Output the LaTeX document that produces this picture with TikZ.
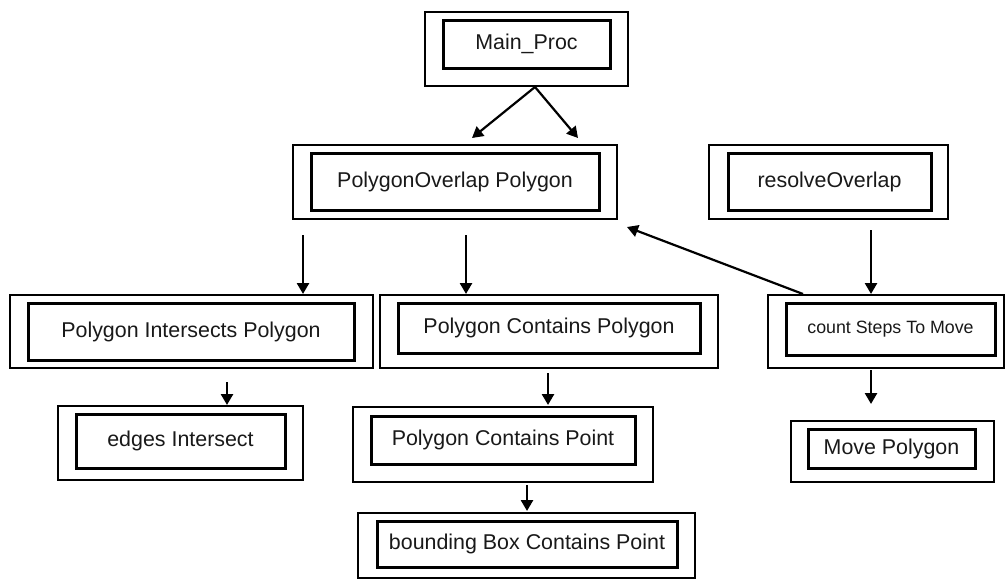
\documentclass[tikz,border=0pt]{standalone}
\usepackage{fontspec}
\setmainfont{Liberation Sans}
\usetikzlibrary{arrows.meta}
\begin{document}
\begin{tikzpicture}[x=1pt,y=-1pt,
  outerbox/.style={draw, line width=2.2pt, inner sep=0pt, rectangle},
  innerbox/.style={draw, line width=3pt, inner sep=0pt, rectangle,
    font=\fontsize{21.4}{24}\selectfont, text=black!90},
  smalltext/.style={font=\fontsize{17.8}{20}\selectfont},
  arr/.style={line width=2.6pt, -{Triangle[length=11pt,width=12pt]}},
  thinarr/.style={line width=2.2pt, -{Triangle[length=11pt,width=12pt]}}
]
\fill[white] (0,0) rectangle (1008,579);
\useasboundingbox (0,0) rectangle (1008,579);

% outer boxes
\node[outerbox, minimum width=203pt, minimum height=74pt] (main)    at (526.5,49)   {};
\node[outerbox, minimum width=324pt, minimum height=74pt] (overlap) at (455,182)    {};
\node[outerbox, minimum width=239pt, minimum height=74pt] (resolve) at (828.5,182)  {};
\node[outerbox, minimum width=363pt, minimum height=73pt] (pip)     at (191.5,331.5){};
\node[outerbox, minimum width=338pt, minimum height=73pt] (pcp)     at (549,331.5)  {};
\node[outerbox, minimum width=236pt, minimum height=73pt] (count)   at (886,331.5)  {};
\node[outerbox, minimum width=245pt, minimum height=74pt] (edges)   at (180.5,443)  {};
\node[outerbox, minimum width=300pt, minimum height=75pt] (pcpt)    at (503,444.5)  {};
\node[outerbox, minimum width=203pt, minimum height=61pt] (move)    at (892.5,451.5){};
\node[outerbox, minimum width=337pt, minimum height=65pt] (bbox)    at (526.5,545.5){};

% inner boxes with text
\node[innerbox, minimum width=167pt, minimum height=48pt] (mainI)    at (526.5,44)   {Main\_Proc};
\node[innerbox, minimum width=288pt, minimum height=57pt] (overlapI) at (455,181.5)  {PolygonOverlap Polygon};
\node[innerbox, minimum width=203pt, minimum height=57pt] (resolveI) at (829.5,181.5){resolveOverlap};
\node[innerbox, minimum width=326pt, minimum height=57pt] (pipI)     at (191,331.5)  {Polygon Intersects Polygon};
\node[innerbox, minimum width=302pt, minimum height=50pt] (pcpI)     at (549,328)    {Polygon Contains Polygon};
\node[innerbox, smalltext, minimum width=209pt, minimum height=52pt] (countI) at (890.5,329) {count Steps To Move};
\node[innerbox, minimum width=209pt, minimum height=54pt] (edgesI)   at (180.5,441)  {edges Intersect};
\node[innerbox, minimum width=264pt, minimum height=48pt] (pcptI)    at (503,440)    {Polygon Contains Point};
\node[innerbox, minimum width=167pt, minimum height=39pt] (moveI)    at (891.5,448.5){Move Polygon};
\node[innerbox, minimum width=300pt, minimum height=46pt] (bboxI)    at (527,544)    {bounding Box Contains Point};

% connector end points
\coordinate (m0) at (535,87);
\coordinate (o1) at (472,138);
\coordinate (o2) at (578,138);
\coordinate (p1s) at (303,235);
\coordinate (p1e) at (303,294);
\coordinate (p2s) at (466,235);
\coordinate (p2e) at (466,294);
\coordinate (r0) at (871,230);
\coordinate (r1) at (871,294);
\coordinate (c0) at (803,294);
\coordinate (c1) at (627,227);
\coordinate (e0) at (227,382);
\coordinate (e1) at (227,405);
\coordinate (k0) at (548,373);
\coordinate (k1) at (548,405);
\coordinate (v0) at (871,370);
\coordinate (v1) at (871,404);
\coordinate (b0) at (527,485);
\coordinate (b1) at (527,511);

% connectors
\draw[thinarr] (m0) -- (o1);
\draw[thinarr] (m0) -- (o2);
\draw[arr] (p1s) -- (p1e);
\draw[arr] (p2s) -- (p2e);
\draw[arr] (r0) -- (r1);
\draw[thinarr] (c0) -- (c1);
\draw[arr] (e0) -- (e1);
\draw[arr] (k0) -- (k1);
\draw[arr] (v0) -- (v1);
\draw[arr] (b0) -- (b1);
\end{tikzpicture}
\end{document}
